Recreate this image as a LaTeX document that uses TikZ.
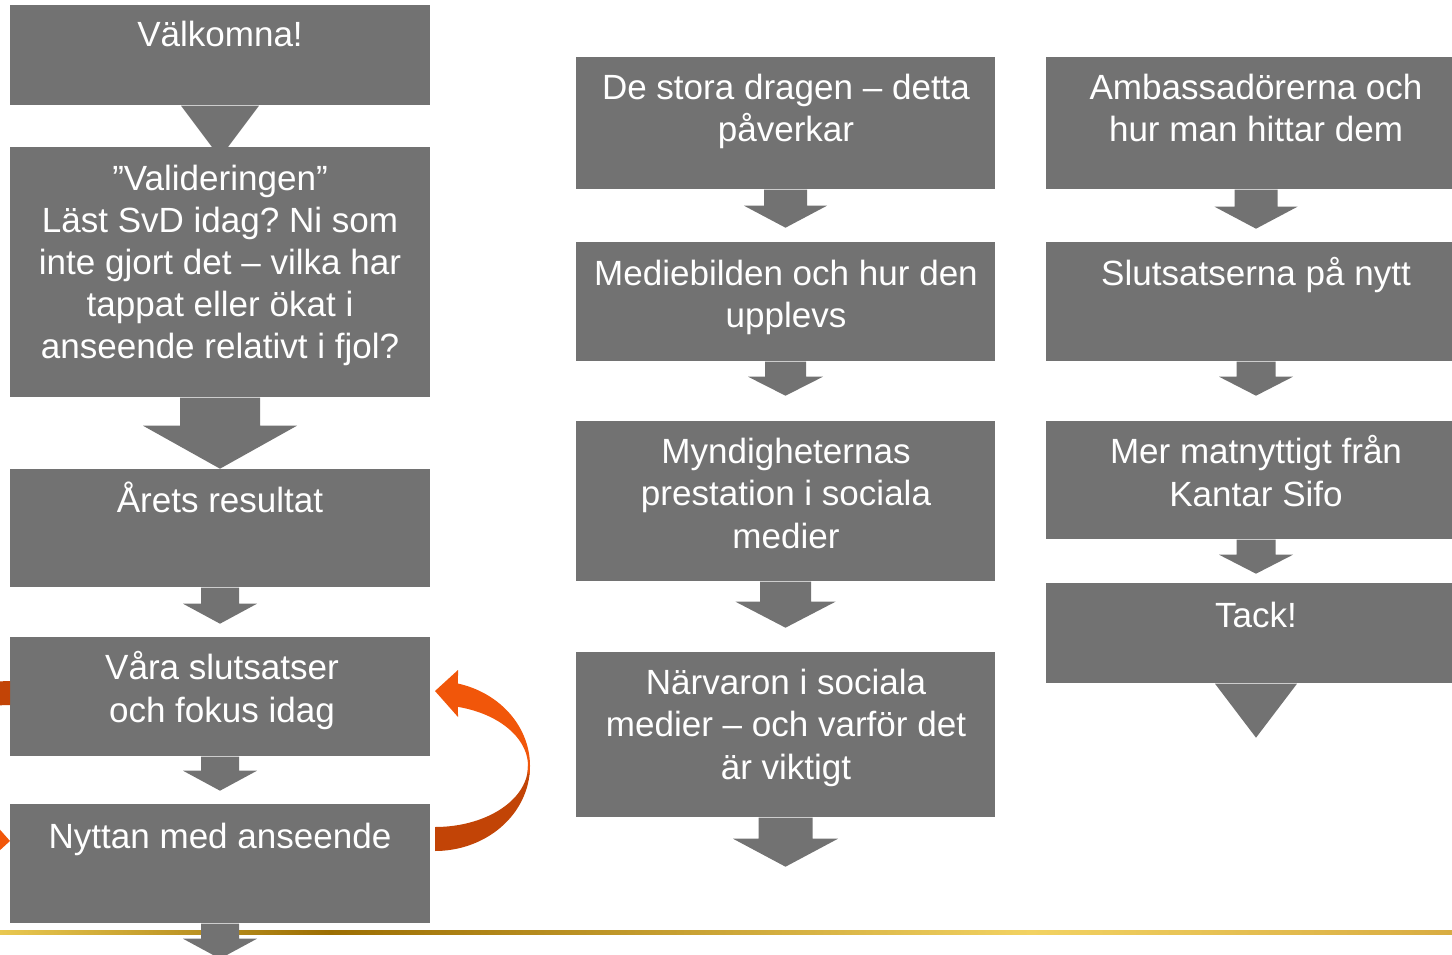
\documentclass[tikz,border=0pt]{standalone}
\usepackage{fontspec}
\setmainfont{Liberation Sans}
\usetikzlibrary{fit}
\frenchspacing
\definecolor{boxgray}{RGB}{114,114,114}
\definecolor{orL}{RGB}{241,86,10}
\definecolor{orD}{RGB}{194,68,6}
\definecolor{gA}{RGB}{233,200,81}
\definecolor{gB}{RGB}{156,110,2}
\definecolor{gC}{RGB}{242,210,98}
\definecolor{gD}{RGB}{216,172,66}
% block arrow below a node: #1 node, #2 shaft half width, #3 shaft length, #4 head half width, #5 head length
\newcommand\blockarr[5]{%
  \fill[boxgray] (#1.south) ++(-#2,0) -- ++(0,#3) -- ++({#2-#4},0) -- ++(#4,#5) -- ++(#4,-#5) -- ++({#2-#4},0) -- ++(0,-#3) -- cycle;}
% curved ribbon arrow: #1 x of tip/tail, #2 direction sign
\newcommand\curvarr[2]{%
  \fill[orD] plot[domain=0:90,samples=40,variable=\t] ({#1+#2*95*cos(\t)},{766+#2*85*sin(\t)})
     -- plot[domain=90:0,samples=40,variable=\t] ({#1+#2*93*cos(\t)},{766+#2*61*sin(\t)}) -- cycle;
  \fill[orL] plot[domain=-6:76,samples=40,variable=\t] ({#1+#2*95*cos(\t)},{766-#2*85*sin(\t)})
     -- ({#1+#2*23},{766-#2*96}) -- (#1,{766-#2*75}) -- ({#1+#2*23},{766-#2*49})
     -- plot[domain=75.7:-6,samples=40,variable=\t] ({#1+#2*93*cos(\t)},{766-#2*61*sin(\t)}) -- cycle;}
\begin{document}
\begin{tikzpicture}[x=0.01cm,y=-0.01cm,
  box/.style={fill=boxgray,inner sep=0pt,draw=none},
  txt/.style={text=white,font=\fontsize{9.96pt}{11.95pt}\selectfont,align=center,inner sep=0pt,anchor=base}]
\useasboundingbox (0,0) rectangle (1452,955);
\clip (0,0) rectangle (1452,955);
% gold line
\shade[left color=gA,right color=gB] (0,930) rectangle (330,934);
\shade[left color=gB,right color=gC] (329.5,930) rectangle (1030,934);
\shade[left color=gC,right color=gD] (1029.5,930) rectangle (1452,934);
% left column
\node[box,fit={(10,5) (430,105)}] (L1) {};
\node[box,fit={(10,147) (430,397)}] (L2) {};
\node[box,fit={(10,469) (430,587)}] (L3) {};
\node[box,fit={(10,637) (430,756)}] (L4) {};
\node[box,fit={(10,804) (430,923)}] (L5) {};
% middle column
\node[box,fit={(576,57) (995,189)}] (M1) {};
\node[box,fit={(576,242) (995,361)}] (M2) {};
\node[box,fit={(576,421) (995,581)}] (M3) {};
\node[box,fit={(576,652) (995,817)}] (M4) {};
% right column
\node[box,fit={(1046,57) (1466,189)}] (R1) {};
\node[box,fit={(1046,242) (1466,361)}] (R2) {};
\node[box,fit={(1046,421) (1466,539)}] (R3) {};
\node[box,fit={(1046,583) (1466,683)}] (R4) {};
% arrows
\blockarr{L1}{39}{0}{39}{52}
\blockarr{L2}{40}{28}{77}{43}
\blockarr{L3}{19}{16}{37}{20}
\blockarr{L4}{19}{14}{37}{20}
\blockarr{L5}{19}{15}{37}{20}
\blockarr{M1}{21.5}{16}{41.5}{22}
\blockarr{M2}{20.5}{15}{37.5}{19}
\blockarr{M3}{25.5}{20}{50}{26}
\blockarr{M4}{27}{21}{52.5}{28}
\blockarr{R1}{21.5}{17}{41.5}{22}
\blockarr{R2}{19.5}{15}{37}{19}
\blockarr{R3}{19.5}{15}{37}{19}
\blockarr{R4}{41}{0}{41}{54}
% texts (anchor base = baseline of the last line)
\node[txt] (L1t) at (220,47) {Välkomna!};
\node[txt] (L2t) at (220,359) {”Valideringen”\\Läst SvD idag? Ni som\\inte gjort det – vilka har\\tappat eller ökat i\\anseende relativt i fjol?};
\node[txt] (L3t) at (220,512) {Årets resultat};
\node[txt] (L4t) at (222,722) {Våra slutsatser\\och fokus idag};
\node[txt] (L5t) at (220,848) {Nyttan med anseende};
\node[txt] (M1t) at (786,142) {De stora dragen – detta\\påverkar};
\node[txt] (M2t) at (786,328) {Mediebilden och hur den\\upplevs};
\node[txt] (M3t) at (786,548) {Myndigheternas\\prestation i sociala\\medier};
\node[txt] (M4t) at (786,779) {Närvaron i sociala\\medier – och varför det\\är viktigt};
\node[txt] (R1t) at (1256,142) {Ambassadörerna och\\hur man hittar dem};
\node[txt] (R2t) at (1256,286) {Slutsatserna på nytt};
\node[txt] (R3t) at (1256,506) {Mer matnyttigt från\\Kantar Sifo};
\node[txt] (R4t) at (1256,627) {Tack!};
% curved arrows
\curvarr{435}{1}
\curvarr{10}{-1}
\end{tikzpicture}
\end{document}
